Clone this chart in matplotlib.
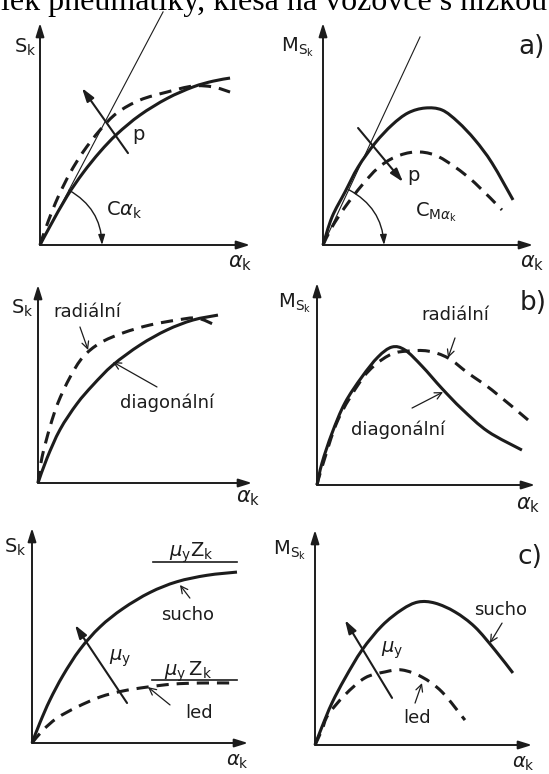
import numpy as np
import matplotlib
matplotlib.use('Agg')
import matplotlib.pyplot as plt
from matplotlib.path import Path
from matplotlib.patches import PathPatch

plt.rcParams['font.family'] = ['DejaVu Sans']
plt.rcParams['mathtext.fontset'] = 'dejavusans'

W, H = 549, 774
ink = '#1c1c1c'

# --- a) S_k(alpha_k) and M_Sk(alpha_k), vliv tlaku p ---
a_s_x = [0, 0.048, 0.129, 0.205, 0.286, 0.367, 0.476, 0.605, 0.729, 0.824, 0.905]
a_s_solid = [0, 0.085, 0.220, 0.325, 0.420, 0.500, 0.585, 0.660, 0.712, 0.738, 0.752]
a_s_dx = [0, 0.038, 0.086, 0.143, 0.205, 0.286, 0.367, 0.476, 0.605, 0.729, 0.824, 0.905]
a_s_dash = [0, 0.104, 0.216, 0.324, 0.419, 0.518, 0.595, 0.653, 0.689, 0.716, 0.712, 0.689]
a_s_tangent = (0.586, 1.05)

a_m_x = [0, 0.043, 0.105, 0.167, 0.248, 0.329, 0.405, 0.486, 0.567, 0.643, 0.724, 0.805, 0.905]
a_m_solid = [0, 0.126, 0.239, 0.351, 0.459, 0.541, 0.595, 0.617, 0.608, 0.554, 0.473, 0.369, 0.203]
a_m_dx = [0, 0.043, 0.105, 0.186, 0.262, 0.343, 0.438, 0.533, 0.629, 0.724, 0.852]
a_m_dash = [0, 0.081, 0.171, 0.270, 0.347, 0.396, 0.419, 0.405, 0.351, 0.279, 0.158]
a_m_tangent = (0.462, 0.937)

# --- b) radialni vs. diagonalni ---
b_s_x = [0, 0.042, 0.103, 0.182, 0.257, 0.350, 0.477, 0.603, 0.724, 0.841]
b_s_diag = [0, 0.125, 0.270, 0.400, 0.495, 0.596, 0.697, 0.773, 0.823, 0.848]
b_s_rx = [0, 0.019, 0.056, 0.093, 0.150, 0.210, 0.290, 0.397, 0.523, 0.650, 0.743, 0.827]
b_s_rad = [0, 0.131, 0.283, 0.404, 0.535, 0.636, 0.707, 0.758, 0.798, 0.823, 0.833, 0.798]

b_m_x = [0, 0.023, 0.069, 0.128, 0.206, 0.280, 0.344, 0.404, 0.482, 0.573, 0.665, 0.784, 0.940]
b_m_diag = [0, 0.109, 0.257, 0.406, 0.535, 0.634, 0.683, 0.668, 0.588, 0.478, 0.376, 0.265, 0.173]
b_m_rx = [0, 0.023, 0.096, 0.197, 0.266, 0.344, 0.417, 0.509, 0.601, 0.693, 0.803, 0.968]
b_m_rad = [0, 0.089, 0.322, 0.510, 0.594, 0.649, 0.663, 0.663, 0.629, 0.554, 0.470, 0.322]

# --- c) sucho vs. led ---
c_s_x = [0, 0.037, 0.083, 0.144, 0.222, 0.315, 0.421, 0.546, 0.671, 0.810, 0.949]
c_s_dry = [0, 0.095, 0.200, 0.315, 0.435, 0.540, 0.625, 0.700, 0.750, 0.780, 0.795]
c_s_ix = [0, 0.051, 0.116, 0.208, 0.315, 0.421, 0.532, 0.653, 0.778, 0.949]
c_s_ice = [0, 0.060, 0.116, 0.167, 0.214, 0.242, 0.260, 0.274, 0.279, 0.279]
c_s_limits = [0.842, 0.293]

c_m_x = [0, 0.032, 0.078, 0.138, 0.217, 0.309, 0.401, 0.475, 0.553, 0.645, 0.737, 0.829, 0.912]
c_m_dry = [0, 0.084, 0.195, 0.310, 0.442, 0.555, 0.630, 0.665, 0.660, 0.619, 0.549, 0.442, 0.335]
c_m_ix = [0, 0.032, 0.060, 0.138, 0.230, 0.323, 0.401, 0.493, 0.585, 0.691]
c_m_ice = [0, 0.070, 0.140, 0.233, 0.312, 0.340, 0.349, 0.316, 0.247, 0.116]

DASH = (0, (4, 2.6))
alpha_k = r'$\alpha_\mathrm{k}$'
S_k = r'S$_\mathrm{k}$'
M_Sk = r'M$_{\mathrm{S}_\mathrm{k}}$'

fig = plt.figure(figsize=(W / 100, H / 100), dpi=100)
fig.patch.set_facecolor('white')

fig.text(0.002, 1 - 10 / H, 'lek pneumatiky, klesá na vozovce s nízkou',
         family='Liberation Serif', fontsize=23, va='baseline', color='black')


def panel(x0, y0, w, h):
    ax = fig.add_axes([x0 / W, 1 - y0 / H, w / W, h / H])
    ax.set_xlim(0, 1)
    ax.set_ylim(0, 1)
    ax.axis('off')
    for tip in [(1, 0), (0, 1)]:
        ax.annotate('', xy=tip, xytext=(0, 0), annotation_clip=False,
                    arrowprops=dict(arrowstyle='-|>,head_length=0.8,head_width=0.25',
                                    color=ink, lw=1.4, shrinkA=0, shrinkB=0))
    ax.wh = (w, h)
    return ax


def curve(ax, x, y, dashed=False):
    # hladka krivka (Bezier) vedena odectenymi body
    p = np.column_stack([x, y])
    q = np.vstack([p[0], p, p[-1]])
    verts = [p[0]]
    for i in range(len(p) - 1):
        c1 = q[i + 1] + (q[i + 2] - q[i]) / 6
        c2 = q[i + 2] - (q[i + 3] - q[i + 1]) / 6
        verts += [c1, c2, p[i + 1]]
    codes = [Path.MOVETO] + [Path.CURVE4] * (len(verts) - 1)
    patch = PathPatch(Path(verts, codes), fill=False, edgecolor=ink, lw=2.2,
                      ls=DASH if dashed else '-', capstyle='butt', joinstyle='round',
                      clip_on=False)
    ax.add_patch(patch)


def arrow(ax, tail, head, thin=False):
    if thin:
        props = dict(arrowstyle='->,head_length=0.5,head_width=0.25', color=ink, lw=0.9)
    else:
        props = dict(arrowstyle='-|>,head_length=0.8,head_width=0.25', color=ink, lw=1.5)
    props.update(shrinkA=0, shrinkB=0)
    ax.annotate('', xy=head, xytext=tail, arrowprops=props, annotation_clip=False)


def label(ax, x, y, s, size=13):
    ax.text(x, y, s, fontsize=size, ha='center', va='center', color=ink, clip_on=False)


def angle_arc(ax, tangent, r):
    # oblouk od tecny k ose x, polomer r v pixelech
    w, h = ax.wh
    dx, dy = tangent[0] * w, tangent[1] * h
    n = np.hypot(dx, dy)
    start = (r * dx / n / w, r * dy / n / h)
    end = (r / w, 0)
    ax.annotate('', xy=end, xytext=start, annotation_clip=False,
                arrowprops=dict(arrowstyle='-|>,head_length=0.6,head_width=0.2',
                                connectionstyle='arc3,rad=-0.28', color=ink, lw=1.0,
                                shrinkA=0, shrinkB=0))


# a) levy
ax = panel(40, 245, 210, 222)
ax.plot([0, a_s_tangent[0]], [0, a_s_tangent[1]], color=ink, lw=0.8, clip_on=False)
curve(ax, a_s_x, a_s_solid)
curve(ax, a_s_dx, a_s_dash, dashed=True)
arrow(ax, (0.419, 0.414), (0.200, 0.707))
label(ax, 0.47, 0.50, 'p', 14)
angle_arc(ax, a_s_tangent, 62)
label(ax, 0.40, 0.158, r'C$\alpha_\mathrm{k}$', 14)
label(ax, -0.071, 0.892, S_k, 14)
label(ax, 0.952, -0.081, alpha_k, 15)

# a) pravy
ax = panel(323, 245, 210, 222)
ax.plot([0, a_m_tangent[0]], [0, a_m_tangent[1]], color=ink, lw=0.8, clip_on=False)
curve(ax, a_m_x, a_m_solid)
curve(ax, a_m_dx, a_m_dash, dashed=True)
arrow(ax, (0.167, 0.527), (0.381, 0.284))
label(ax, 0.43, 0.315, 'p', 14)
angle_arc(ax, a_m_tangent, 61)
label(ax, 0.54, 0.149, r'C$_{\mathrm{M}\alpha_\mathrm{k}}$', 14)
label(ax, -0.119, 0.892, M_Sk, 14)
label(ax, 0.995, 0.892, 'a)', 19)
label(ax, 0.995, -0.081, alpha_k, 15)

# b) levy
ax = panel(38, 483, 214, 198)
curve(ax, b_s_x, b_s_diag)
curve(ax, b_s_rx, b_s_rad, dashed=True)
label(ax, 0.229, 0.864, 'radiální')
arrow(ax, (0.196, 0.788), (0.234, 0.672), thin=True)
label(ax, 0.603, 0.404, 'diagonální')
arrow(ax, (0.556, 0.485), (0.350, 0.611), thin=True)
label(ax, -0.075, 0.884, S_k, 14)
label(ax, 0.981, -0.076, alpha_k, 15)

# b) pravy
ax = panel(317, 485, 218, 202)
curve(ax, b_m_x, b_m_diag)
curve(ax, b_m_rx, b_m_rad, dashed=True)
label(ax, 0.633, 0.842, 'radiální')
arrow(ax, (0.633, 0.728), (0.601, 0.629), thin=True)
label(ax, 0.372, 0.272, 'diagonální')
arrow(ax, (0.436, 0.381), (0.578, 0.460), thin=True)
label(ax, -0.101, 0.901, M_Sk, 14)
label(ax, 0.99, 0.901, 'b)', 19)
label(ax, 0.968, -0.099, alpha_k, 15)

# c) levy
ax = panel(32, 743, 216, 215)
curve(ax, c_s_x, c_s_dry)
curve(ax, c_s_ix, c_s_ice, dashed=True)
ax.plot([0.560, 0.949], [c_s_limits[0]] * 2, color=ink, lw=1.2)
ax.plot([0.556, 0.949], [c_s_limits[1]] * 2, color=ink, lw=1.2)
label(ax, 0.736, 0.884, r'$\mu_\mathrm{y}\mathrm{Z}_\mathrm{k}$', 14)
label(ax, 0.722, 0.330, r'$\mu_\mathrm{y}\,\mathrm{Z}_\mathrm{k}$', 14)
label(ax, 0.722, 0.595, 'sucho')
arrow(ax, (0.731, 0.674), (0.685, 0.735), thin=True)
label(ax, 0.773, 0.140, 'led')
arrow(ax, (0.639, 0.177), (0.537, 0.260), thin=True)
arrow(ax, (0.440, 0.186), (0.199, 0.549))
label(ax, 0.407, 0.395, r'$\mu_\mathrm{y}$', 14)
label(ax, -0.079, 0.912, S_k, 14)
label(ax, 0.949, -0.085, alpha_k, 14)

# c) pravy
ax = panel(315, 745, 217, 215)
curve(ax, c_m_x, c_m_dry)
curve(ax, c_m_ix, c_m_ice, dashed=True)
label(ax, 0.853, 0.628, 'sucho')
arrow(ax, (0.862, 0.567), (0.806, 0.474), thin=True)
label(ax, 0.470, 0.126, 'led')
arrow(ax, (0.461, 0.195), (0.493, 0.288), thin=True)
arrow(ax, (0.355, 0.219), (0.138, 0.581))
label(ax, 0.355, 0.442, r'$\mu_\mathrm{y}$', 14)
label(ax, -0.115, 0.907, M_Sk, 14)
label(ax, 0.991, 0.874, 'c)', 19)
label(ax, 0.959, -0.088, alpha_k, 14)

fig.savefig('out.png', dpi=100)
